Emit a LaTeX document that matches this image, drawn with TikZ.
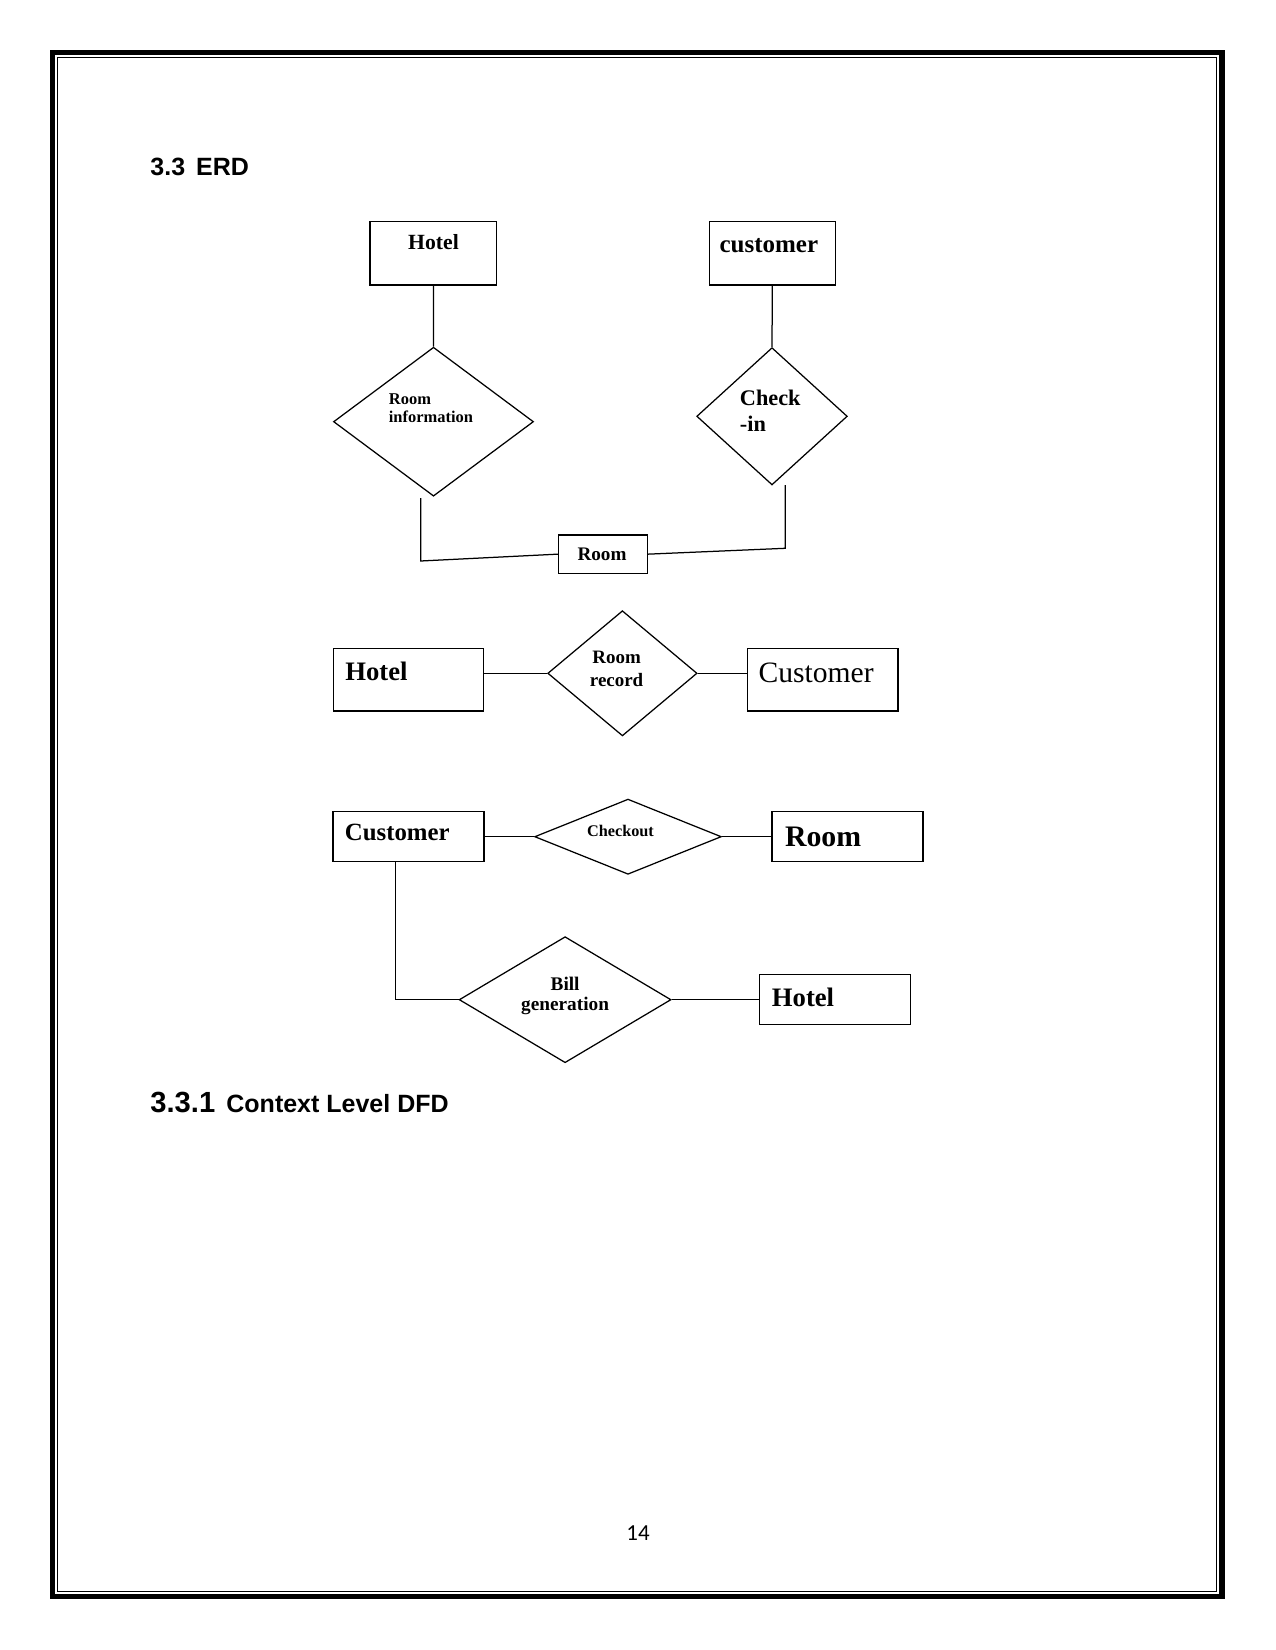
\documentclass[tikz,border=0pt]{standalone}
\usepackage{fontspec}
\setmainfont{Liberation Serif}
\newfontfamily\headfont{Liberation Sans}
\newfontfamily\pagenumfont{Carlito}
\usetikzlibrary{shapes.geometric, fit}
\newcommand\erfont[2]{\fontsize{#1}{#2}\selectfont}

\begin{document}
\begin{tikzpicture}[x=0.48pt, y=-0.48pt]
\useasboundingbox (0,0) rectangle (1275,1650);

% page frame
\draw [line width=2.6pt] (52.5,52.5) rectangle (1222,1596.3);
\draw [line width=0.7pt] (57.5,57.5) rectangle (1216.5,1591.5);

\begin{scope}[every node/.style={inner sep=0, anchor=base west}]
    \node (head) at (150,176) [font=\headfont\bfseries\erfont{12}{14}] {3.3\hspace{5.3pt}ERD};
    \node (subnum) at (150,1112.3) [font=\headfont\bfseries\erfont{14}{16}] {3.3.1};
    \node (subhead) at (226,1112.3) [font=\headfont\bfseries\erfont{12}{14}] {Context Level DFD};
    \node (pagenum) at (638,1540.7) [anchor=base, font=\pagenumfont\erfont{11}{13}] {14};
\end{scope}

\begin{scope}[every node/.style={draw=black, line width=0.6pt, inner sep=0}]
    \node (hotel1) [fit={(370,221.7) (496.7,285)}] {};
    \node (cust1) [fit={(709.2,221.7) (835.2,285)}] {};
    \node (rinfo) at (433.5,421.7) [shape=diamond, minimum width=96pt, minimum height=71.5pt] {};
    \node (checkin) at (772,416.3) [shape=diamond, minimum width=72.3pt, minimum height=65.9pt] {};
    \node (room1) [fit={(558.5,535) (647.4,573.3)}] {};

    \node (hotel2) [fit={(333.4,648.3) (483.8,711)}] {};
    \node (rrecord) at (622.4,673.3) [shape=diamond, minimum width=71.7pt, minimum height=60.1pt] {};
    \node (cust2) [fit={(747.5,648.3) (897.9,711)}] {};

    \node (cust3) [fit={(333,811.7) (484.1,861.7)}] {};
    \node (checkout) at (628,836.7) [shape=diamond, minimum width=89.6pt, minimum height=36.1pt] {};
    \node (room3) [fit={(772,811.7) (923,861.7)}] {};
    \node (billgen) at (565.1,999.7) [shape=diamond, minimum width=101.7pt, minimum height=60.5pt] {};
    \node (hotel4) [fit={(759.7,974.3) (910.3,1024.3)}] {};
\end{scope}

\begin{scope}[every node/.style={inner sep=0, anchor=base west}]
    \node (hotel1-t) at (433.5,249.3) [anchor=base, font=\bfseries\erfont{10.4}{12}] {Hotel};
    \node (cust1-t) at (768.8,252.3) [anchor=base, font=\bfseries\erfont{12}{14}] {customer};
    \node (rinfo-t) at (388.5,407.9) [anchor=west, align=left, font=\bfseries\erfont{7.9}{8.8}] {Room\\information};
    \node (checkin-t) at (739.5,410.8) [anchor=west, align=left, font=\bfseries\erfont{10.7}{12.8}] {Check\\-in};
    \node (room1-t) at (602,560) [anchor=base, font=\bfseries\erfont{9.2}{11}] {Room};

    \node (hotel2-t) at (344.9,680.7) [font=\bfseries\erfont{12.8}{15}] {Hotel};
    \node (rrecord-t) at (616.6,669.1) [anchor=center, align=center, font=\bfseries\erfont{9.1}{10.9}] {Room\\record};
    \node (cust2-t) at (758.2,682.7) [font=\erfont{14.2}{16}] {Customer};

    \node (cust3-t) at (344.5,840.7) [font=\bfseries\erfont{11.9}{14}] {Customer};
    \node (checkout-t) at (620.5,836) [anchor=base, font=\bfseries\erfont{7.8}{9}] {Checkout};
    \node (room3-t) at (784.6,846.7) [font=\bfseries\erfont{14.3}{16}] {Room};
    \node (billgen-t) at (565.1,996) [anchor=center, align=center, font=\bfseries\erfont{9.25}{9.9}] {Bill\\generation};
    \node (hotel4-t) at (771.5,1006.7) [font=\bfseries\erfont{12.8}{15}] {Hotel};
\end{scope}

\coordinate (infoend) at (420.7,498);
\coordinate (infobend) at (420.7,561);
\coordinate (checkend) at (785.2,485);
\coordinate (checkbend) at (785.2,548.3);

\begin{scope}[line width=0.6pt, every edge/.style={draw=black, line width=0.6pt}]
    \path (hotel1) edge (rinfo);
    \path (cust1) edge (checkin);
    \draw (infoend) -- (infobend) -- (room1.west);
    \draw (room1.east) -- (checkbend) -- (checkend);

    \path (rrecord.west) edge (rrecord.west -| hotel2.east);
    \path (rrecord.east) edge (rrecord.east -| cust2.west);

    \path (checkout.west) edge (checkout.west -| cust3.east);
    \path (checkout.east) edge (checkout.east -| room3.west);
    \draw ([xshift=-6.1pt]cust3.south) |- (billgen.west);
    \path (billgen.east) edge (billgen.east -| hotel4.west);
\end{scope}
\end{tikzpicture}
\end{document}
